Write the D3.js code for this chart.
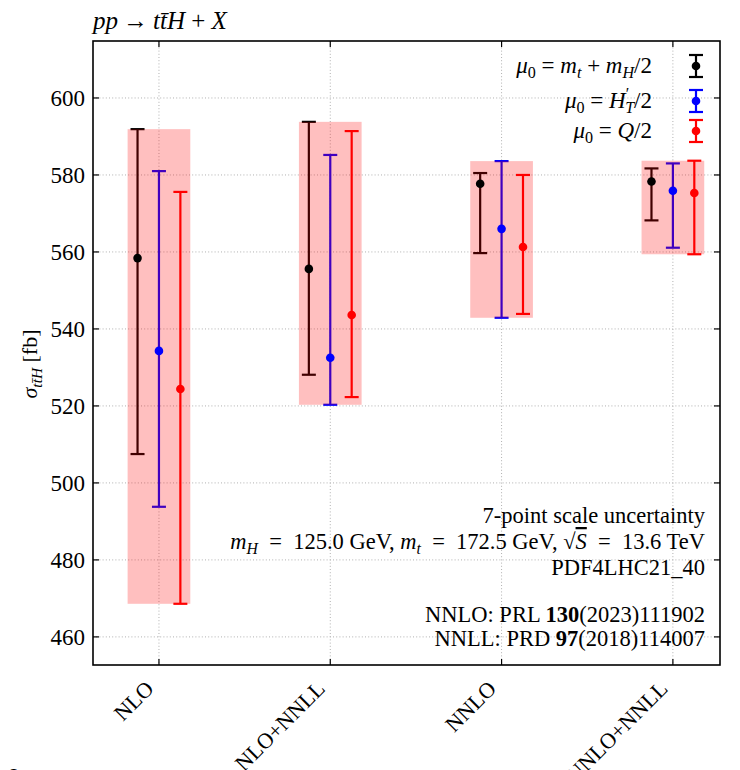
<!DOCTYPE html>
<html>
<head>
<meta charset="utf-8">
<script src="https://cdn.jsdelivr.net/npm/d3@7"></script>
<style>
  html, body { margin: 0; padding: 0; background: #fff; }
  svg text { font-family: "Liberation Serif", "Times New Roman", serif; fill: #000; }
</style>
</head>
<body>
<svg id="chart" width="740" height="770"></svg>
<script>
// Orders of the ttH cross-section prediction
const categories = ["NLO", "NLO+NNLL", "NNLO", "NNLO+NNLL"];

// mu0 = m_t + m_H/2
const centralMtMh = [558.4, 555.6, 577.7, 578.3];
const lowMtMh     = [507.5, 528.1, 559.7, 568.2];
const highMtMh    = [591.9, 593.8, 580.5, 581.7];

// mu0 = H'_T/2
const centralHT = [534.3, 532.5, 566.0, 575.9];
const lowHT     = [493.8, 520.3, 542.9, 561.1];
const highHT    = [581.0, 585.2, 583.6, 583.0];

// mu0 = Q/2
const centralQ = [524.4, 543.6, 561.3, 575.3];
const lowQ     = [468.6, 522.3, 543.9, 559.4];
const highQ    = [575.6, 591.4, 580.0, 583.7];

const yTicks = [460, 480, 500, 520, 540, 560, 580, 600];

const series = [
  { central: centralMtMh, low: lowMtMh, high: highMtMh, color: "#000000", offset: -0.125 },
  { central: centralHT,   low: lowHT,   high: highHT,   color: "#0000ff", offset: 0 },
  { central: centralQ,    low: lowQ,    high: highQ,    color: "#ff0000", offset: 0.125 }
];

const svg = d3.select("#chart");
const plot = { left: 93, right: 720, top: 41, bottom: 665 };

const x = d3.scaleLinear().domain([-0.385, 3.275]).range([plot.left, plot.right]);
const y = d3.scaleLinear().domain([452.7, 614.8]).range([plot.bottom, plot.top]);

// Rich text helper: italic / bold / sub / sup runs inside one <text>
function rich(sel, parts, size) {
  let cur = 0;
  parts.forEach(p => {
    const shift = p.sub ? size * 0.22 : p.sup ? -size * 0.38 : 0;
    const ts = sel.append("tspan")
      .text(p.t)
      .attr("dy", shift - cur)
      .attr("font-size", (p.sub || p.sup) ? size * 0.7 : size)
      .attr("font-style", p.i ? "italic" : "normal")
      .attr("font-weight", p.b ? "bold" : "normal");
    if (p.dx) ts.attr("dx", p.dx);
    if (p.over) ts.style("text-decoration", "overline");
    cur = shift;
  });
}

// Grid
const grid = svg.append("g");
grid.selectAll("line.h").data(yTicks).join("line")
  .attr("x1", plot.left).attr("x2", plot.right)
  .attr("y1", d => y(d)).attr("y2", d => y(d))
  .attr("stroke", "#b0b0b0").attr("stroke-width", 1).attr("stroke-dasharray", "1,2.2");
grid.selectAll("line.v").data(categories).join("line")
  .attr("x1", (d, i) => x(i)).attr("x2", (d, i) => x(i))
  .attr("y1", plot.top).attr("y2", plot.bottom)
  .attr("stroke", "#b0b0b0").attr("stroke-width", 1).attr("stroke-dasharray", "1,2.2");

// Error bars
const capHalf = 7;
const bars = svg.append("g");
series.forEach(s => {
  const g = bars.append("g").attr("stroke", s.color).attr("stroke-width", 2.2);
  categories.forEach((c, i) => {
    const cx = x(i + s.offset);
    g.append("line").attr("x1", cx).attr("x2", cx).attr("y1", y(s.low[i])).attr("y2", y(s.high[i]));
    g.append("line").attr("x1", cx - capHalf).attr("x2", cx + capHalf).attr("y1", y(s.low[i])).attr("y2", y(s.low[i]));
    g.append("line").attr("x1", cx - capHalf).attr("x2", cx + capHalf).attr("y1", y(s.high[i])).attr("y2", y(s.high[i]));
  });
});

// Envelope bands over all three scale choices
const envLow = categories.map((c, i) => d3.min(series, s => s.low[i]));
const envHigh = categories.map((c, i) => d3.max(series, s => s.high[i]));
svg.append("g").selectAll("rect").data(categories).join("rect")
  .attr("x", (d, i) => x(i - 0.183))
  .attr("width", x(0.183) - x(-0.183))
  .attr("y", (d, i) => y(envHigh[i]))
  .attr("height", (d, i) => y(envLow[i]) - y(envHigh[i]))
  .attr("fill", "#ff0000").attr("fill-opacity", 0.25);

// Central values
series.forEach(s => {
  svg.append("g").selectAll("circle").data(s.central).join("circle")
    .attr("cx", (d, i) => x(i + s.offset))
    .attr("cy", d => y(d))
    .attr("r", 4.3)
    .attr("fill", s.color);
});

// Frame and axes (ticks inward on all sides)
const tickLen = 6;
const axes = svg.append("g").attr("stroke", "#000");
axes.append("rect").attr("x", plot.left).attr("y", plot.top)
  .attr("width", plot.right - plot.left).attr("height", plot.bottom - plot.top)
  .attr("fill", "none").attr("stroke-width", 1.6);
yTicks.forEach(t => {
  axes.append("line").attr("x1", plot.left).attr("x2", plot.left + tickLen).attr("y1", y(t)).attr("y2", y(t)).attr("stroke-width", 1.2);
  axes.append("line").attr("x1", plot.right).attr("x2", plot.right - tickLen).attr("y1", y(t)).attr("y2", y(t)).attr("stroke-width", 1.2);
});
categories.forEach((c, i) => {
  axes.append("line").attr("x1", x(i)).attr("x2", x(i)).attr("y1", plot.bottom).attr("y2", plot.bottom - tickLen).attr("stroke-width", 1.2);
  axes.append("line").attr("x1", x(i)).attr("x2", x(i)).attr("y1", plot.top).attr("y2", plot.top + tickLen).attr("stroke-width", 1.2);
});

// Y tick labels
svg.append("g").selectAll("text").data(yTicks).join("text")
  .attr("x", plot.left - 8).attr("y", d => y(d))
  .attr("dy", "0.35em").attr("text-anchor", "end")
  .attr("font-size", 23)
  .text(d => d);

// X tick labels, rotated 45 degrees
svg.append("g").selectAll("text").data(categories).join("text")
  .attr("text-anchor", "end")
  .attr("font-size", 22)
  .attr("transform", (d, i) => `translate(${x(i) - 4},${plot.bottom + 25}) rotate(-45)`)
  .text(d => d);

// Title
rich(svg.append("text").attr("x", plot.left).attr("y", 29), [
  { t: "pp", i: true }, { t: "\u2009\u2192\u2009" }, { t: "tt\u0304H", i: true }, { t: " + " }, { t: "X", i: true }
], 25);

// Y axis label
rich(svg.append("text").attr("transform", "translate(37,364) rotate(-90)").attr("text-anchor", "middle"), [
  { t: "\u03c3", i: true }, { t: "tt\u0304H", i: true, sub: true }, { t: " [fb]" }
], 22);

// Legend
const legendRows = [
  { y: 66, color: "#000000", parts: [
    { t: "\u03bc", i: true }, { t: "0", sub: true }, { t: " = " }, { t: "m", i: true }, { t: "t", i: true, sub: true },
    { t: " + " }, { t: "m", i: true }, { t: "H", i: true, sub: true }, { t: "/2" } ] },
  { y: 101, color: "#0000ff", parts: [
    { t: "\u03bc", i: true }, { t: "0", sub: true }, { t: " = " }, { t: "H", i: true }, { t: "\u2032", sup: true },
    { t: "T", i: true, sub: true, dx: -4 }, { t: "/2" } ] },
  { y: 131, color: "#ff0000", parts: [
    { t: "\u03bc", i: true }, { t: "0", sub: true }, { t: " = " }, { t: "Q", i: true }, { t: "/2" } ] }
];
const legend = svg.append("g");
legendRows.forEach(r => {
  const mx = 696;
  const g = legend.append("g").attr("stroke", r.color).attr("stroke-width", 2.2);
  g.append("line").attr("x1", mx).attr("x2", mx).attr("y1", r.y - 11).attr("y2", r.y + 11);
  g.append("line").attr("x1", mx - capHalf).attr("x2", mx + capHalf).attr("y1", r.y - 11).attr("y2", r.y - 11);
  g.append("line").attr("x1", mx - capHalf).attr("x2", mx + capHalf).attr("y1", r.y + 11).attr("y2", r.y + 11);
  legend.append("circle").attr("cx", mx).attr("cy", r.y).attr("r", 4.3).attr("fill", r.color);
  rich(legend.append("text").attr("x", 652).attr("y", r.y + 7).attr("text-anchor", "end"), r.parts, 23);
});

// Setup annotation
const infoX = 705;
const infoY = [523, 549, 575, 622, 646];
const eq = "\u2002=\u2002";
const infoParts = [
  [{ t: "7-point scale uncertainty" }],
  [{ t: "m", i: true }, { t: "H", i: true, sub: true }, { t: eq + "125.0 GeV, " }, { t: "m", i: true }, { t: "t", i: true, sub: true },
   { t: eq + "172.5 GeV, " }, { t: "\u221a" }, { t: "S", i: true, over: true }, { t: eq + "13.6 TeV" }],
  [{ t: "PDF4LHC21_40" }],
  [{ t: "NNLO: PRL " }, { t: "130", b: true }, { t: "(2023)111902" }],
  [{ t: "NNLL: PRD " }, { t: "97", b: true }, { t: "(2018)114007" }]
];
infoParts.forEach((parts, k) => {
  rich(svg.append("text").attr("x", infoX).attr("y", infoY[k]).attr("text-anchor", "end"), parts, 22.5);
});

// Clipped glyph at the lower left margin
svg.append("text").attr("x", 10).attr("y", 783).attr("font-size", 22).text("I");
</script>
</body>
</html>
